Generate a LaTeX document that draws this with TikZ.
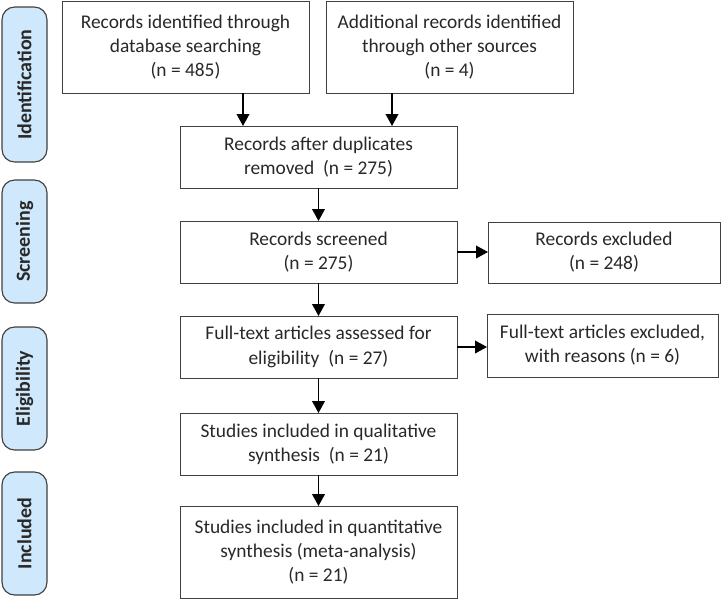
\documentclass[tikz,border=0pt]{standalone}
\usepackage{fontspec}
\setmainfont{Carlito}
\usepackage{xcolor}
\usetikzlibrary{positioning,arrows.meta}
\definecolor{phaseblue}{RGB}{207,232,251}
\definecolor{boxline}{RGB}{64,64,64}
\definecolor{txtgray}{RGB}{40,40,40}
\begin{document}
\begin{tikzpicture}[x=0.025cm,y=-0.025cm,outer sep=0pt,font=\fontsize{13.8}{17.2}\selectfont]
    \tikzstyle{phase} = [rectangle, rounded corners=9pt, draw=boxline, line width=0.8pt, fill=phaseblue, rotate=90, minimum height=45*0.025cm, inner sep=0pt, font=\fontsize{14.2}{16}\selectfont\bfseries, text=txtgray]
    \tikzstyle{stage} = [rectangle, draw=boxline, line width=0.7pt, align=center, text=txtgray, inner sep=2pt]
    \tikzstyle{arr} = [line width=1.1pt, -{Triangle[width=9pt,length=8.5pt]}]
    \useasboundingbox (0,0) rectangle (721,600);
    % phases on the left
    \node (ident)  at (24.5,84.5)  [phase, minimum width=155*0.025cm] {Identification};
    \node (screen) at (24.5,241.5) [phase, minimum width=123*0.025cm] {Screening};
    \node (elig)   at (24.5,388.5) [phase, minimum width=123*0.025cm] {Eligibility};
    \node (incl)   at (24.5,533.5) [phase, minimum width=123*0.025cm] {Included};
    % main column
    \node (b1) at (185.5,47) [stage, minimum width=247*0.025cm, minimum height=92*0.025cm] {Records identified through\\database searching\\(n = 485)};
    \node (b2) at (449.5,47) [stage, minimum width=247*0.025cm, minimum height=92*0.025cm] {Additional records identified\\through other sources\\(n = 4)};
    \node (b3) at (318.5,157) [stage, minimum width=277*0.025cm, minimum height=62*0.025cm] {Records after duplicates\\removed~ (n = 275)};
    \node (b4) at (318.5,252) [stage, minimum width=277*0.025cm, minimum height=62*0.025cm] {Records screened\\(n = 275)};
    \node (b5) at (318.5,347) [stage, minimum width=277*0.025cm, minimum height=62*0.025cm] {Full-text articles assessed for\\eligibility~ (n = 27)};
    \node (b6) at (318.5,444) [stage, minimum width=277*0.025cm, minimum height=62*0.025cm] {Studies included in qualitative\\synthesis~ (n = 21)};
    \node (b7) at (318.5,552) [stage, minimum width=277*0.025cm, minimum height=92*0.025cm] {Studies included in quantitative\\synthesis (meta-analysis)\\(n = 21)};
    % exclusions
    \node (ex1) at (604,252.5) [stage, minimum width=232*0.025cm, minimum height=61*0.025cm] {Records excluded\\(n = 248)};
    \node (ex2) at (602.5,345.5) [stage, minimum width=231*0.025cm, minimum height=63*0.025cm] {Full-text articles excluded,\\with reasons (n = 6)};
    \coordinate (a1) at (243,0);
    \coordinate (a2) at (392,0);
    \draw[arr] (b1.south -| a1) -- (b3.north -| a1);
    \draw[arr] (b2.south -| a2) -- (b3.north -| a2);
    \draw[arr] (b3) -- (b4);
    \draw[arr] (b4) -- (b5);
    \draw[arr] (b5) -- (b6);
    \draw[arr] (b6) -- (b7);
    \draw[arr] (b4.east) -- (b4.east -| ex1.west);
    \draw[arr] (b5.east) -- (b5.east -| ex2.west);
\end{tikzpicture}
\end{document}
